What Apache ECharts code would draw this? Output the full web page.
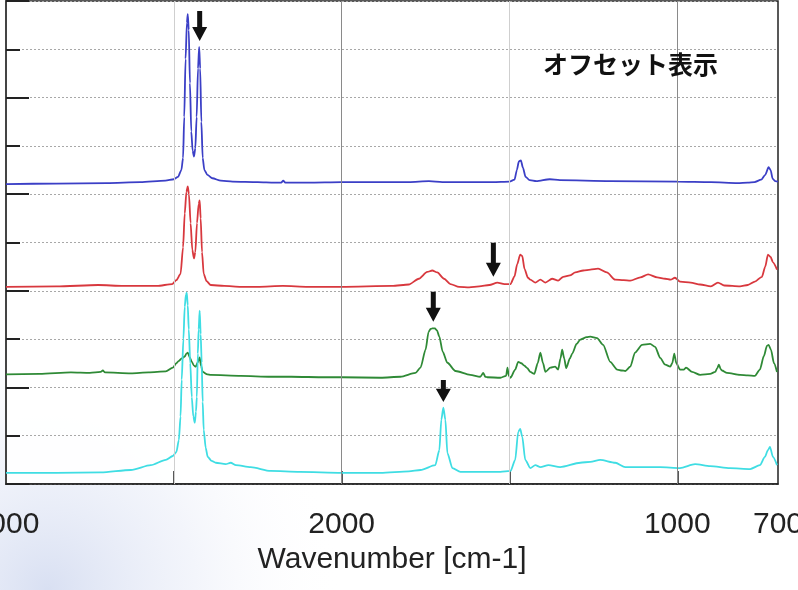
<!DOCTYPE html>
<html>
<head>
<meta charset="utf-8">
<script src="https://cdn.jsdelivr.net/npm/echarts@6/dist/echarts.min.js"></script>
<style>
html,body{margin:0;padding:0;background:#ffffff;}
#chart{width:798px;height:590px;}
</style>
</head>
<body>
<div id="chart"></div>
<script>
// ---- data (wavenumber [cm-1], offset intensity) ----
const titleText = 'オフセット表示';
const axisName = 'Wavenumber [cm-1]';
const xLabelValues = [4000, 2000, 1000, 700];
const xTickValues = [3000, 2000, 1500, 1000];
const xStrongLines = [2000, 1000];
const xLightLines = [3000, 1500];

const blueSpectrum = [
  [4000,6.21],[3700,6.22],[3400,6.23],[3200,6.25],[3050,6.28],[3000,6.31],[2975,6.36],[2955,6.5],
  [2945,6.75],[2938,7.6],[2930,8.8],[2922,9.55],[2917,9.73],[2911,9.4],[2904,8.3],[2896,7.3],
  [2888,6.9],[2880,6.78],[2872,6.95],[2864,7.6],[2856,8.6],[2849,9.05],[2843,8.6],[2836,7.5],
  [2828,6.75],[2818,6.5],[2800,6.4],[2770,6.33],[2720,6.28],[2650,6.26],[2500,6.25],[2400,6.24],
  [2360,6.24],[2348,6.28],[2336,6.24],[2200,6.24],[2000,6.25],[1800,6.25],[1740,6.27],[1700,6.25],
  [1550,6.25],[1500,6.26],[1485,6.3],[1478,6.5],[1472,6.68],[1466,6.70],[1460,6.55],[1452,6.36],
  [1440,6.29],[1420,6.27],[1380,6.31],[1350,6.29],[1200,6.27],[1000,6.26],[900,6.25],[820,6.23],
  [790,6.24],[770,6.25],[750,6.3],[738,6.4],[728,6.56],[722,6.5],[716,6.32],[708,6.27],[700,6.26]
];
const redSpectrum = [
  [4000,4.08],[3700,4.09],[3450,4.12],[3300,4.1],[3100,4.1],[3010,4.14],[2985,4.22],[2960,4.35],
  [2945,4.9],[2935,5.6],[2925,6.05],[2917,6.16],[2910,6.0],[2900,5.4],[2890,4.85],[2880,4.67],
  [2872,4.8],[2862,5.4],[2852,5.8],[2846,5.87],[2840,5.5],[2832,4.8],[2822,4.35],[2805,4.2],
  [2780,4.12],[2700,4.1],[2600,4.08],[2500,4.08],[2350,4.1],[2200,4.08],[2000,4.08],[1850,4.1],
  [1800,4.13],[1770,4.25],[1745,4.39],[1730,4.42],[1715,4.38],[1695,4.25],[1676,4.14],[1650,4.08],
  [1620,4.07],[1590,4.09],[1560,4.12],[1536,4.17],[1515,4.14],[1497,4.14],[1485,4.3],[1477,4.55],
  [1468,4.75],[1462,4.72],[1455,4.45],[1445,4.27],[1438,4.23],[1423,4.17],[1408,4.23],[1393,4.17],
  [1373,4.25],[1355,4.21],[1340,4.29],[1320,4.32],[1304,4.38],[1280,4.42],[1259,4.44],[1236,4.46],
  [1210,4.38],[1185,4.23],[1160,4.22],[1140,4.21],[1110,4.28],[1087,4.34],[1060,4.28],[1036,4.25],
  [1020,4.23],[1007,4.27],[992,4.19],[960,4.17],[932,4.13],[900,4.09],[879,4.17],[860,4.11],
  [813,4.09],[790,4.12],[769,4.19],[748,4.29],[738,4.5],[730,4.75],[722,4.7],[715,4.59],[703,4.44]
];
const greenSpectrum = [
  [4000,2.27],[3800,2.28],[3613,2.31],[3500,2.3],[3435,2.32],[3423,2.35],[3410,2.31],[3256,2.29],
  [3150,2.31],[3048,2.33],[3006,2.41],[2985,2.5],[2970,2.55],[2953,2.6],[2935,2.64],[2925,2.7],
  [2917,2.72],[2905,2.62],[2893,2.53],[2880,2.45],[2869,2.43],[2858,2.52],[2846,2.62],[2838,2.45],
  [2828,2.32],[2800,2.27],[2780,2.26],[2600,2.24],[2423,2.22],[2300,2.22],[2100,2.21],[2000,2.21],
  [1884,2.2],[1825,2.22],[1780,2.3],[1765,2.41],[1750,2.78],[1741,3.15],[1735,3.21],[1730,3.22],
  [1722,3.22],[1716,3.18],[1709,3.05],[1699,2.74],[1685,2.51],[1661,2.34],[1617,2.26],[1587,2.22],
  [1578,2.3],[1572,2.22],[1566,2.21],[1527,2.2],[1510,2.24],[1506,2.41],[1502,2.24],[1497,2.2],
  [1483,2.37],[1474,2.53],[1465,2.5],[1456,2.45],[1447,2.4],[1438,2.32],[1426,2.28],[1416,2.5],
  [1408,2.72],[1400,2.5],[1393,2.32],[1378,2.41],[1364,2.43],[1355,2.37],[1348,2.6],[1343,2.78],
  [1337,2.6],[1331,2.4],[1320,2.6],[1313,2.7],[1300,2.9],[1289,2.99],[1270,3.04],[1259,3.05],
  [1239,3.02],[1221,2.88],[1200,2.53],[1179,2.37],[1165,2.35],[1155,2.34],[1140,2.43],[1126,2.72],
  [1105,2.88],[1081,2.9],[1066,2.84],[1051,2.61],[1036,2.47],[1021,2.43],[1015,2.5],[1009,2.7],
  [1003,2.5],[992,2.37],[980,2.37],[974,2.41],[956,2.32],[932,2.26],[902,2.28],[887,2.32],
  [881,2.4],[876,2.47],[871,2.38],[867,2.35],[852,2.3],[813,2.26],[790,2.25],[769,2.24],
  [754,2.37],[742,2.65],[733,2.86],[728,2.88],[721,2.78],[712,2.5],[703,2.32]
];
const cyanSpectrum = [
  [4000,0.23],[3700,0.23],[3435,0.24],[3256,0.29],[3137,0.39],[3048,0.5],[3006,0.58],[2985,0.66],
  [2970,0.91],[2960,1.4],[2953,2.16],[2943,3.0],[2935,3.67],[2928,3.92],[2923,3.96],[2917,3.7],
  [2911,3.2],[2902,2.5],[2893,1.8],[2884,1.4],[2875,1.27],[2868,1.5],[2863,1.8],[2857,2.7],
  [2852,3.2],[2846,3.59],[2840,3.1],[2834,2.51],[2828,1.7],[2822,1.12],[2810,0.75],[2798,0.56],
  [2775,0.48],[2750,0.44],[2691,0.41],[2661,0.44],[2630,0.39],[2542,0.35],[2423,0.27],[2250,0.25],
  [2000,0.23],[1884,0.23],[1800,0.26],[1765,0.29],[1721,0.39],[1709,0.7],[1703,1.33],[1697,1.58],
  [1691,1.33],[1685,0.64],[1670,0.33],[1646,0.25],[1527,0.25],[1497,0.27],[1483,0.5],[1474,1.08],
  [1468,1.14],[1462,0.98],[1453,0.5],[1438,0.33],[1423,0.39],[1408,0.35],[1384,0.39],[1349,0.35],
  [1289,0.44],[1259,0.46],[1230,0.5],[1185,0.44],[1155,0.35],[1111,0.35],[1051,0.35],[992,0.33],
  [947,0.41],[902,0.37],[843,0.33],[783,0.31],[754,0.39],[739,0.56],[730,0.7],[724,0.77],
  [715,0.56],[703,0.39]
];
// arrow annotations: [wavenumber of tip, intensity of tip, arrow length px]
const arrowMarks = [
  [2846, 9.17, 30],
  [1548, 4.29, 34],
  [1727, 3.36, 30],
  [1697, 1.70, 22]
];

// ---- axis transform: 4000-2000 region is drawn at half scale ----
const toU = wn => wn > 2000 ? 2000 + (wn - 2000) / 2 : wn;
const fromU = u => u > 2000 ? Math.round(2000 + (u - 2000) * 2) : Math.round(u);
const conv = arr => arr.map(p => [toU(p[0]), p[1]]);

function arrowPath(len) {
  const head = Math.min(14, len * 0.6);
  const s = len - head;
  return 'path://M5,0 L10,0 L10,' + s + ' L15,' + s + ' L7.5,' + len + ' L0,' + s + ' L5,' + s + ' Z';
}

const chart = echarts.init(document.getElementById('chart'), null, {renderer: 'canvas'});
const lineFont = "'Liberation Sans', Arial, sans-serif";

function spectrum(name, data, color) {
  return {
    name: name, type: 'line', data: conv(data), showSymbol: false, symbol: 'none',
    smooth: 0.25, smoothMonotone: 'x', z: 3,
    lineStyle: {color: color, width: 1.8},
    itemStyle: {color: color}, animation: false
  };
}

const option = {
  animation: false,
  backgroundColor: '#ffffff',
  graphic: [{
    type: 'rect', silent: true, z: -10,
    shape: {x: 0, y: 0, width: 798, height: 590},
    style: {fill: new echarts.graphic.RadialGradient(0.06, 1.0, 0.5, [
      {offset: 0, color: 'rgba(185,198,232,0.55)'},
      {offset: 0.5, color: 'rgba(215,222,242,0.3)'},
      {offset: 1, color: 'rgba(255,255,255,0)'}
    ])}
  }],
  title: {
    text: titleText, left: 538, top: 47,
    textStyle: {fontSize: 25, fontWeight: 'bold', color: '#111', fontFamily: "'Noto Sans CJK JP', sans-serif"}
  },
  grid: {left: 6, right: 20, top: 1, bottom: 106, containLabel: false, outerBoundsMode: 'none',
         show: true, borderColor: '#222', borderWidth: 1.5, backgroundColor: 'rgba(255,255,255,0.9)'},
  xAxis: {
    type: 'value', inverse: true, min: 700, max: 3000,
    name: axisName, nameLocation: 'middle', nameGap: 54,
    nameTextStyle: {fontSize: 30, color: '#222', fontFamily: lineFont},
    axisLine: {lineStyle: {color: '#222', width: 1.5}},
    axisTick: {inside: true, length: 13, customValues: xTickValues.map(toU), lineStyle: {color: '#222', width: 1.5}},
    axisLabel: {customValues: xLabelValues.map(toU), formatter: v => String(fromU(v)), fontSize: 30, color: '#222', margin: 26, fontFamily: lineFont},
    splitLine: {show: false}
  },
  yAxis: {
    type: 'value', min: 0, max: 10, interval: 2,
    axisLine: {show: true, lineStyle: {color: '#444', width: 2}},
    axisTick: {show: true, inside: true, length: 23, lineStyle: {color: '#222', width: 2}},
    minorTick: {show: true, splitNumber: 2, length: 14, lineStyle: {color: '#222', width: 2}},
    axisLabel: {show: false},
    splitLine: {show: true, lineStyle: {color: '#a8a8a8', width: 1, type: [2, 2]}},
    minorSplitLine: {show: true, lineStyle: {color: '#a8a8a8', width: 1, type: [2, 2]}}
  },
  series: [
    {
      name: 'grid', type: 'line', data: [], z: 1, silent: true,
      markLine: {
        silent: true, symbol: 'none', animation: false, label: {show: false},
        data: xLightLines.map(v => ({xAxis: toU(v), lineStyle: {color: '#cfcfcf', width: 1, type: 'solid'}}))
          .concat(xStrongLines.map(v => ({xAxis: toU(v), lineStyle: {color: '#8a8a8a', width: 1, type: 'solid'}})))
      }
    },
    spectrum('blue', blueSpectrum, '#3b3fc6'),
    spectrum('red', redSpectrum, '#d8383e'),
    spectrum('green', greenSpectrum, '#2f8a36'),
    Object.assign(spectrum('cyan', cyanSpectrum, '#3fdde3'), {
      markPoint: {
        silent: true, animation: false,
        data: arrowMarks.map(a => ({
          coord: [toU(a[0]), a[1]],
          symbol: arrowPath(a[2]), symbolSize: [15, a[2]], symbolOffset: [0, -a[2] / 2],
          itemStyle: {color: '#111'}, label: {show: false}
        }))
      }
    })
  ]
};
chart.setOption(option);
</script>
</body>
</html>
